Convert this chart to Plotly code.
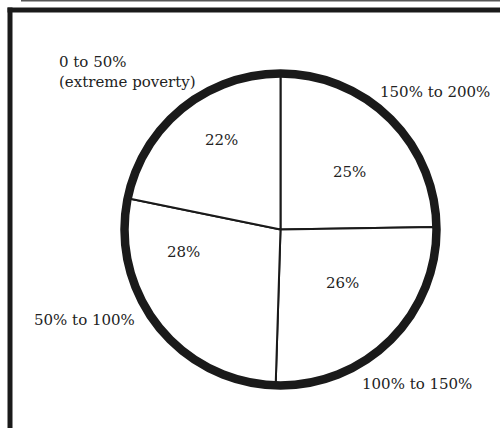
import plotly.graph_objects as go

categories = ["150% to 200%", "100% to 150%", "50% to 100%", "0 to 50%<br>(extreme poverty)"]
shares = [25, 26, 28, 22]
pct_labels = [f"{v}%" for v in shares]

W, H = 500, 428
cx, cy, r = 280.5, 229.5, 156

fig = go.Figure()
fig.add_trace(go.Pie(
    labels=categories,
    values=shares,
    textinfo="none",
    sort=False,
    direction="clockwise",
    rotation=0,
    marker=dict(colors=["white"] * len(shares), line=dict(color="#1a1a1a", width=2)),
    domain=dict(x=[(cx - r) / W, (cx + r) / W], y=[(H - cy - r) / H, (H - cy + r) / H]),
    showlegend=False,
    hoverinfo="label+percent",
))

shapes = [
    # thick outer rim of the pie
    dict(type="circle", xref="paper", yref="paper",
         x0=(cx - r) / W, x1=(cx + r) / W, y0=(H - cy - r) / H, y1=(H - cy + r) / H,
         line=dict(color="#1a1a1a", width=8.5)),
    # frame
    dict(type="line", xref="paper", yref="paper", x0=7.5 / W, x1=1.0, y0=1 - 10 / H, y1=1 - 10 / H,
         line=dict(color="#1a1a1a", width=5)),
    dict(type="line", xref="paper", yref="paper", x0=10 / W, x1=10 / W, y0=0, y1=1 - 7.5 / H,
         line=dict(color="#1a1a1a", width=5)),
    dict(type="line", xref="paper", yref="paper", x0=21 / W, x1=1.0, y0=1 - 0.75 / H, y1=1 - 0.75 / H,
         line=dict(color="#555", width=1.5)),
]

font = dict(family="DejaVu Serif", size=15, color="#222")
# text positions (pixels) for category names and percentage labels
label_pos = [(378, 92), (360, 383.5), (32, 320), (57, 72)]
pct_pos = [(349, 172), (342, 283), (183, 252), (221, 140)]

annotations = []
for cat, (x, y) in zip(categories, label_pos):
    annotations.append(dict(text=cat, x=x / W, y=1 - y / H, xref="paper", yref="paper",
                            xanchor="left", yanchor="middle", align="left", showarrow=False, font=font))
for txt, (x, y) in zip(pct_labels, pct_pos):
    annotations.append(dict(text=txt, x=x / W, y=1 - y / H, xref="paper", yref="paper",
                            xanchor="center", yanchor="middle", showarrow=False, font=font))

fig.update_layout(
    width=W, height=H,
    margin=dict(l=0, r=0, t=0, b=0),
    paper_bgcolor="white", plot_bgcolor="white",
    shapes=shapes, annotations=annotations,
)
fig.write_html("out.html", config={"displayModeBar": False},
               post_script="document.body.style.margin='0';")
